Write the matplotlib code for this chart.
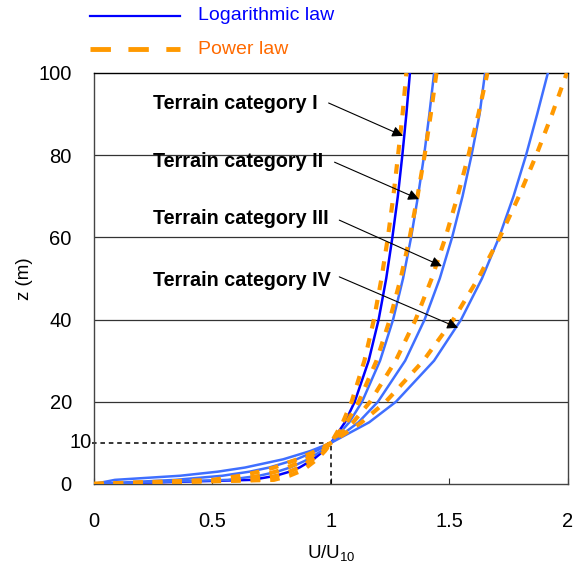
import matplotlib
matplotlib.use("Agg")
import matplotlib.pyplot as plt
from matplotlib.lines import Line2D

plt.rcParams['font.family'] = ['Liberation Sans', 'DejaVu Sans']

# heights (m)
z = [0, 1, 2, 3, 4, 6, 8, 10, 15, 20, 30, 40, 50, 60, 70, 80, 90, 100]

# logarithmic law, U/U10
log_I = [0, 0.667, 0.767, 0.826, 0.867, 0.926, 0.968, 1.0, 1.059, 1.100, 1.159, 1.201, 1.233, 1.259, 1.282, 1.301, 1.318, 1.333]
log_II = [0, 0.565, 0.696, 0.773, 0.827, 0.904, 0.958, 1.0, 1.077, 1.131, 1.207, 1.262, 1.304, 1.338, 1.367, 1.393, 1.415, 1.435]
log_III = [0, 0.343, 0.541, 0.657, 0.739, 0.854, 0.936, 1.0, 1.116, 1.198, 1.313, 1.395, 1.459, 1.511, 1.555, 1.593, 1.627, 1.650]
log_IV = [0, 0.088, 0.363, 0.523, 0.637, 0.798, 0.912, 1.0, 1.161, 1.274, 1.435, 1.549, 1.637, 1.709, 1.770, 1.823, 1.870, 1.915]

# power law, U/U10
pow_I = [0, 0.759, 0.824, 0.866, 0.896, 0.941, 0.974, 1.0, 1.050, 1.087, 1.141, 1.181, 1.213, 1.240, 1.263, 1.283, 1.302, 1.318]
pow_II = [0, 0.692, 0.773, 0.825, 0.864, 0.922, 0.965, 1.0, 1.067, 1.117, 1.192, 1.248, 1.294, 1.332, 1.365, 1.395, 1.421, 1.445]
pow_III = [0, 0.603, 0.702, 0.767, 0.817, 0.894, 0.952, 1.0, 1.093, 1.165, 1.273, 1.357, 1.425, 1.483, 1.534, 1.580, 1.622, 1.660]
pow_IV = [0, 0.501, 0.617, 0.697, 0.760, 0.858, 0.935, 1.0, 1.129, 1.231, 1.390, 1.516, 1.621, 1.712, 1.793, 1.866, 1.933, 1.995]

labels = ["Terrain category I", "Terrain category II", "Terrain category III", "Terrain category IV"]
label_y = [92.5, 78.5, 64.5, 49.5]
arrow_start = [(0.99, 92.7), (1.015, 78.3), (1.035, 64.2), (1.035, 50.4)]
arrow_tip = [(1.304, 84.7), (1.371, 69.3), (1.468, 53.0), (1.536, 38.0)]

fig = plt.figure(figsize=(5.77, 5.65), dpi=100)
ax = fig.add_axes([0.1629, 0.1434, 0.8215, 0.7274])

ax.plot(log_I, z, color="#0000ff", lw=1.8, zorder=3)
for u in [log_II, log_III, log_IV]:
    ax.plot(u, z, color="#3f6fff", lw=1.8, zorder=3)
for u in [pow_I, pow_II, pow_III, pow_IV]:
    ax.plot(u, z, color="#ff9900", lw=3.0, dashes=(2.3, 2.4), zorder=4)

# reference lines at z = 10
ax.plot([-0.01, 1], [10, 10], color="black", lw=1.1, dashes=(3, 2.5), clip_on=False, zorder=2)
ax.plot([1, 1], [0, 10], color="black", lw=1.1, dashes=(3, 2.5), zorder=2)

for yg in [20, 40, 60, 80]:
    ax.axhline(yg, color="#333333", lw=0.9, zorder=1)

for lab, ly, s, t in zip(labels, label_y, arrow_start, arrow_tip):
    ax.text(0.25, ly, lab, fontsize=14.2, fontweight="bold", va="center", ha="left")
    ax.annotate("", xy=t, xytext=s,
                arrowprops=dict(arrowstyle="-|>", color="black", lw=0.8,
                                mutation_scale=16, shrinkA=0, shrinkB=0),
                zorder=5)

ax.set_xlim(0, 2)
ax.set_ylim(0, 100)
ax.set_xticks([0, 0.5, 1, 1.5, 2])
ax.set_xticklabels(["0", "0.5", "1", "1.5", "2"])
ax.set_yticks([0, 20, 40, 60, 80, 100])
ax.tick_params(axis="x", direction="in", length=4, labelsize=14.5, pad=20, color="#333333")
ax.tick_params(axis="y", length=0, labelsize=14.5, pad=16)
ax.text(-0.01, 10, "10", fontsize=14.5, ha="right", va="center")
for sp in ax.spines.values():
    sp.set_color("#444444")
    sp.set_linewidth(1.0)
ax.spines["top"].set_color("black")

ax.set_xlabel("U/U$_{\\mathregular{10}}$", fontsize=13.5, labelpad=9)
ax.set_ylabel("z (m)", fontsize=13.5, labelpad=4)

# legend drawn above the plot
fig.add_artist(Line2D([90 / 577, 180 / 577], [1 - 16 / 565, 1 - 16 / 565], color="#0000ff", lw=1.6))
fig.add_artist(Line2D([90 / 577, 180 / 577], [1 - 49 / 565, 1 - 49 / 565], color="#ff9900", lw=3.5, dashes=(4.2, 3.6)))
fig.text(198 / 577, 1 - 16 / 565, "Logarithmic law", color="#0000ff", fontsize=14, va="center")
fig.text(198 / 577, 1 - 49 / 565, "Power law", color="#ff6a00", fontsize=14, va="center")

fig.savefig("out.png", dpi=100)
